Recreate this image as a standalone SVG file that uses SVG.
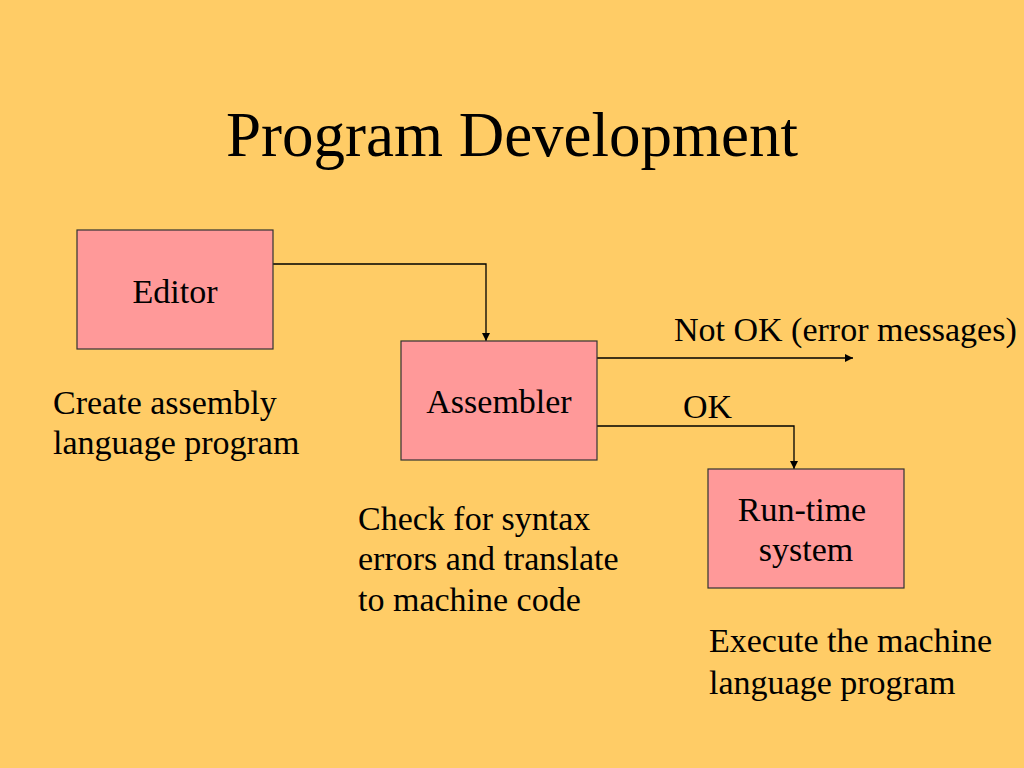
<svg xmlns="http://www.w3.org/2000/svg" width="1024" height="768" viewBox="0 0 1024 768">
<defs>
<style>
text{font-family:"Liberation Serif","Times New Roman",serif;fill:#000}
.t{font-size:34px}
.box{fill:#FF9999;stroke:#333;stroke-width:1.2}
.c{fill:none;stroke:#000;stroke-width:1.3}
</style>
<marker id="ah" viewBox="0 0 10 10" refX="10" refY="5" markerWidth="8" markerHeight="8" markerUnits="userSpaceOnUse" orient="auto"><path d="M0,0 L10,5 L0,10 z" fill="#000"/></marker>
</defs>
<rect width="1024" height="768" fill="#FFCC66"/>
<text x="512" y="156" font-size="63" text-anchor="middle">Program Development</text>
<g id="connectors">
<path class="c" d="M273,264 H486 V341" marker-end="url(#ah)"/>
<path class="c" d="M597,358 H853" marker-end="url(#ah)"/>
<path class="c" d="M597,426 H794 V469" marker-end="url(#ah)"/>
</g>
<g id="editor">
<rect class="box" x="77" y="230" width="196" height="119"/>
<text class="t" x="175" y="303" text-anchor="middle">Editor</text>
</g>
<g id="assembler">
<rect class="box" x="401" y="341" width="196" height="119"/>
<text class="t" x="499" y="413" text-anchor="middle">Assembler</text>
</g>
<g id="runtime">
<rect class="box" x="708" y="469" width="196" height="119"/>
<text class="t" x="802" y="521" text-anchor="middle">Run-time</text>
<text class="t" x="806" y="561" text-anchor="middle">system</text>
</g>
<g id="labels">
<text class="t" x="674" y="341">Not OK (error messages)</text>
<text class="t" x="683" y="418">OK</text>
<text class="t" x="53" y="414">Create assembly</text>
<text class="t" x="53" y="454">language program</text>
<text class="t" x="358" y="530">Check for syntax</text>
<text class="t" x="358" y="570">errors and translate</text>
<text class="t" x="358" y="611">to machine code</text>
<text class="t" x="709" y="652">Execute the machine</text>
<text class="t" x="709" y="694">language program</text>
</g>
</svg>
